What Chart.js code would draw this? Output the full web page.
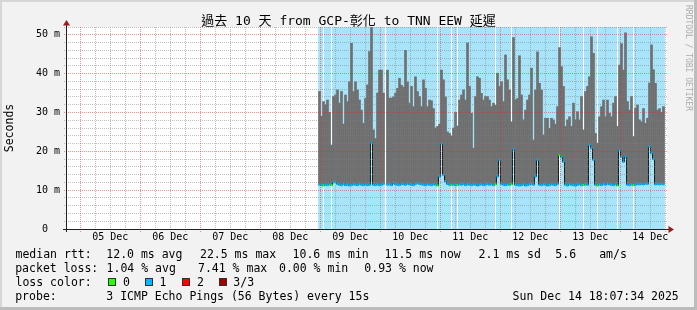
<!DOCTYPE html>
<html><head><meta charset="utf-8">
<script src="https://cdn.jsdelivr.net/npm/chart.js@4.4.1/dist/chart.umd.min.js"></script>
<style>
html,body{margin:0;padding:0;background:#f2f2f2;}
#wrap{position:relative;width:697px;height:310px;background:#f2f2f2;overflow:hidden;font-family:"DejaVu Sans Mono",monospace;color:#000;}
#fTL{position:absolute;left:0;top:0;width:697px;height:310px;box-sizing:border-box;border-top:2px solid #d6d6d6;border-left:2px solid #d6d6d6;}
#fBR{position:absolute;left:0;top:0;width:697px;height:310px;box-sizing:border-box;border-right:3px solid #bcbcbc;border-bottom:3px solid #bcbcbc;}
canvas{position:absolute;left:0;top:0;}
.t{position:absolute;white-space:pre;font-size:11.5px;line-height:14px;}
#title{position:absolute;left:0;top:13px;width:697px;text-align:center;font-family:"DejaVu Sans Mono","Noto Sans CJK TC",monospace;font-size:13px;line-height:16px;white-space:pre;}
#wm{position:absolute;left:683px;top:5px;writing-mode:vertical-rl;font-size:8px;line-height:10px;color:#ababab;white-space:pre;}
.box{position:absolute;width:8px;height:8px;box-sizing:border-box;border:1px solid #303030;}
</style></head>
<body>
<div id="wrap">
<div id="fTL"></div><div id="fBR"></div>
<canvas id="c" width="697" height="310"></canvas>
<div id="title">過去 10 天 from GCP-彰化 to TNN EEW 延遲</div>
<div id="wm">RRDTOOL / TOBI OETIKER</div>

<span class="t" style="left:15.5px;top:247.3px">median rtt:</span>
<span class="t" style="left:106.3px;top:247.3px">12.0 ms avg</span>
<span class="t" style="left:200px;top:247.3px">22.5 ms max</span>
<span class="t" style="left:292.6px;top:247.3px">10.6 ms min</span>
<span class="t" style="left:384.6px;top:247.3px">11.5 ms now</span>
<span class="t" style="left:478.6px;top:247.3px">2.1 ms sd</span>
<span class="t" style="left:555.3px;top:247.3px">5.6</span>
<span class="t" style="left:599.2px;top:247.3px">am/s</span>

<span class="t" style="left:15.2px;top:261.3px">packet loss:</span>
<span class="t" style="left:106.6px;top:261.3px">1.04 % avg</span>
<span class="t" style="left:198px;top:261.3px">7.41 % max</span>
<span class="t" style="left:279px;top:261.3px">0.00 % min</span>
<span class="t" style="left:364.3px;top:261.3px">0.93 % now</span>

<span class="t" style="left:15.5px;top:275.3px">loss color:</span>
<div class="box" style="left:108px;top:278px;background:#26ff00"></div>
<span class="t" style="left:123px;top:275.3px">0</span>
<div class="box" style="left:145px;top:278px;background:#00b8ff"></div>
<span class="t" style="left:159.5px;top:275.3px">1</span>
<div class="box" style="left:182px;top:278px;background:#ff0000"></div>
<span class="t" style="left:197px;top:275.3px">2</span>
<div class="box" style="left:219px;top:278px;background:#a00000"></div>
<span class="t" style="left:233.3px;top:275.3px">3/3</span>

<span class="t" style="left:15.2px;top:289.3px">probe:</span>
<span class="t" style="left:106.3px;top:289.3px">3 ICMP Echo Pings (56 Bytes) every 15s</span>
<span class="t" style="left:512.6px;top:289.3px">Sun Dec 14 18:07:34 2025</span>
</div>

<script>
// ---- axis data ----
const DAY_LABELS = ['05 Dec','06 Dec','07 Dec','08 Dec','09 Dec','10 Dec','11 Dec','12 Dec','13 Dec','14 Dec'];
const LABEL_DAYS = [5,6,7,8,9,10,11,12,13,14];
const X_START_DAY = 4.7778;   // Dec 4 18:40
const X_END_DAY = 14.7778;    // Dec 14 18:40
const FIRST_SAMPLE_DAY = 8.96944; // Dec 8 23:16, start of first 48-minute column
const SAMPLE_STEP_DAY = 1/30;     // 48 minutes
const Y_MAX_MS = 52;
const Y_LABEL_VALUES = [0,10,20,30,40,50];
const Y_LABELS = ['0  ','10 m','20 m','30 m','40 m','50 m'];

// ---- series (ms) ----
const SMOKE_MAX = [
 35.4,29.0,32.8,32.0,33.2,30.0,21.6,34.1,34.5,35.8,
 32.4,35.4,27.0,34.5,32.8,37.9,47.8,35.4,37.9,35.8,
 33.2,30.6,27.2,33.6,37.1,45.7,52.0,25.5,23.3,35.0,
 40.9,40.9,35.0,null,40.9,33.7,33.7,34.0,35.0,36.2,
 38.8,37.0,36.5,46.0,37.9,32.4,36.7,31.5,39.2,35.4,
 34.1,31.5,38.4,36.2,31.5,33.2,33.0,31.0,26.0,26.4,
 27.0,40.9,38.4,34.0,25.0,24.6,24.0,26.0,30.0,26.5,
 33.2,34.5,35.8,33.2,47.9,36.7,29.8,20.8,34.1,39.2,
 38.8,34.9,33.2,34.1,34.1,33.2,31.5,32.4,31.9,40.1,
 36.7,37.9,32.8,44.8,38.4,35.8,27.6,49.3,33.2,33.6,
 44.6,34.5,28.1,30.6,33.2,34.5,41.4,22.9,35.8,45.6,
 37.5,35.8,24.2,28.5,28.5,25.9,28.5,28.1,27.0,31.5,
 46.7,41.8,36.7,26.4,28.1,28.9,26.4,32.4,28.1,30.2,
 28.1,34.1,25.5,35.4,36.7,39.2,49.5,45.2,24.6,22.1,
 28.9,31.5,33.2,28.9,33.2,29.8,28.9,32.4,34.1,26.4,
 42.2,47.7,40.9,50.5,32.8,30.6,34.1,23.8,31.1,31.9,
 28.1,27.6,31.0,27.2,28.5,37.6,47.4,41.0,37.5,30.6,
 31.0,30.0,31.5
];
const MEDIAN_RTT = [
 11.4,11.3,11.2,11.4,11.3,11.5,11.3,12.0,12.1,11.6,
 11.4,11.3,11.6,11.3,11.4,11.2,11.3,11.5,11.4,11.3,
 11.6,11.4,11.3,11.5,11.3,11.4,22.2,11.4,11.3,11.5,
 11.3,11.4,11.6,null,11.4,11.5,11.3,11.8,11.5,11.4,
 11.3,11.6,11.5,11.4,11.7,11.5,11.4,11.3,11.6,11.8,
 11.6,11.5,11.4,11.3,11.5,11.4,11.3,11.5,11.4,11.2,
 13.5,22.0,13.9,12.3,11.6,11.4,11.3,11.5,11.3,11.3,
 11.5,11.4,11.6,11.3,11.5,11.4,11.3,11.5,11.4,11.2,
 11.4,11.5,11.3,11.4,11.6,11.4,11.5,11.3,11.5,13.5,
 17.8,11.6,11.4,11.3,11.5,11.4,11.5,20.5,11.4,11.3,
 11.2,11.3,11.5,11.2,11.3,11.5,11.6,11.4,13.5,17.8,
 11.4,11.3,11.5,11.4,11.2,11.3,11.5,11.4,11.3,11.6,
 19.0,18.5,17.3,11.4,11.2,11.5,11.4,11.3,11.2,11.4,
 11.5,11.3,11.3,11.5,11.4,21.6,20.8,17.8,11.4,11.2,
 11.5,11.3,11.6,11.4,11.7,11.5,11.4,11.3,11.5,11.2,
 20.3,18.6,17.3,18.6,11.4,11.3,11.5,11.3,11.4,11.6,
 11.5,11.6,11.5,11.7,11.6,21.2,19.5,18.0,11.5,11.6,
 11.5,11.6,11.5
];
// lost pings (of 3) per column; null = no data
const LOSS = [
 1,1,0,1,1,1,0,1,1,1,
 1,1,1,1,1,1,1,1,1,1,
 1,1,1,1,1,1,1,1,1,1,
 1,1,1,null,1,1,1,1,1,1,
 1,1,1,1,1,1,1,1,1,1,
 1,1,1,1,1,1,1,1,1,0,
 1,1,1,1,1,1,0,1,1,0,
 1,1,1,1,1,1,1,1,1,1,
 1,1,1,1,1,1,1,1,0,1,
 1,1,1,1,1,1,0,1,1,1,
 1,1,1,1,1,1,1,1,1,1,
 1,1,1,1,1,1,1,1,1,1,
 0,1,1,1,1,1,1,1,1,1,
 1,1,0,1,1,1,1,1,1,0,
 1,1,1,1,1,1,1,1,1,0,
 1,1,1,1,1,1,1,0,1,1,
 1,1,1,1,1,1,1,1,1,1,
 1,1,1
];

const LOSS_COLORS = ['#26ff00','#00b8ff','#ff0000','#a00000'];
const LOSS_BG = '#a7e4fa';
const SMOKE_COLOR = '#6f6f6f';
const GRID_MAJOR = 'rgba(255,30,30,0.5)';
const GRID_MINOR = 'rgba(128,128,128,0.5)';

const T = SMOKE_MAX.map((_, k) => FIRST_SAMPLE_DAY + (k + 0.5) * SAMPLE_STEP_DAY);

// 6-hour minor grid, midnight major grid
const xMinorTicks = [], xMajorTicks = [];
for (let q = 20; q <= 59; q++) (q % 4 === 0 ? xMajorTicks : xMinorTicks).push(q / 4);
const yMinorTicks = [], yMajorTicks = [];
for (let v = 2; v <= Y_MAX_MS; v += 2) (v % 10 === 0 ? yMajorTicks : yMinorTicks).push(v);
const xTicks = xMinorTicks.concat(xMajorTicks).sort((a, b) => a - b);
const yTicks = [0].concat(yMinorTicks, yMajorTicks).sort((a, b) => a - b);

const axisFont = {family: 'DejaVu Sans Mono', size: 10};
const align = p => Math.round(p - 0.5) + 0.5;

// rrdtool-style dotted grid drawn over the data, positioned by the chart's scales
const gridPlugin = {
  id: 'rrdgrid',
  afterDatasetsDraw(chart) {
    const {ctx, chartArea: a, scales: {x, y}} = chart;
    const vline = (v, color) => {
      const px = align(x.getPixelForValue(v));
      ctx.strokeStyle = color;
      ctx.beginPath(); ctx.moveTo(px, a.top); ctx.lineTo(px, a.bottom + 3); ctx.stroke();
    };
    const hline = (v, color) => {
      const py = align(y.getPixelForValue(v));
      ctx.strokeStyle = color;
      ctx.beginPath(); ctx.moveTo(a.left - 3, py); ctx.lineTo(a.right, py); ctx.stroke();
    };
    ctx.save();
    ctx.lineWidth = 1;
    ctx.setLineDash([1, 1]);
    xMinorTicks.forEach(v => vline(v, GRID_MINOR));
    yMinorTicks.forEach(v => hline(v, GRID_MINOR));
    xMajorTicks.forEach(v => vline(v, GRID_MAJOR));
    yMajorTicks.forEach(v => hline(v, GRID_MAJOR));
    ctx.restore();
  }
};

const framePlugin = {
  id: 'frame',
  beforeDraw(chart) {
    const {ctx, chartArea: a} = chart;
    ctx.save();
    ctx.fillStyle = '#ffffff';
    ctx.fillRect(a.left, a.top, a.right - a.left, a.bottom - a.top);
    ctx.restore();
  },
  afterDraw(chart) {
    const {ctx, chartArea: a} = chart;
    const yb = Math.floor(a.bottom) + 0.5, xl = Math.floor(a.left) - 0.5;
    ctx.save();
    ctx.strokeStyle = '#202020';
    ctx.lineWidth = 1;
    ctx.beginPath();
    ctx.moveTo(a.left - 4, yb); ctx.lineTo(a.right + 3, yb);
    ctx.moveTo(xl, a.bottom + 3); ctx.lineTo(xl, a.top - 3);
    ctx.stroke();
    ctx.fillStyle = '#9b1c1c';
    ctx.beginPath();
    ctx.moveTo(a.right + 7, yb); ctx.lineTo(a.right + 1.5, yb - 3.5); ctx.lineTo(a.right + 1.5, yb + 3.5); ctx.closePath();
    ctx.fill();
    ctx.beginPath();
    ctx.moveTo(xl, a.top - 7); ctx.lineTo(xl - 3.5, a.top - 1.5); ctx.lineTo(xl + 3.5, a.top - 1.5); ctx.closePath();
    ctx.fill();
    ctx.restore();
  }
};

new Chart(document.getElementById('c'), {
  type: 'bar',
  data: {
    datasets: [
      { // loss background
        type: 'bar', order: 10, grouped: false, barThickness: 2,
        backgroundColor: LOSS_BG,
        data: LOSS.map((l, k) => ({x: T[k], y: l === null ? null : Y_MAX_MS}))
      },
      { // no-loss columns
        type: 'bar', order: 9, grouped: false, barThickness: 1, inflateAmount: 0,
        backgroundColor: '#ffffff',
        data: LOSS.map((l, k) => ({x: T[k], y: l === 0 ? Y_MAX_MS : null}))
      },
      { // smoke
        type: 'bar', order: 8, grouped: false, barThickness: 2,
        backgroundColor: SMOKE_COLOR,
        data: SMOKE_MAX.map((m, k) => ({x: T[k], y: (m === null || MEDIAN_RTT[k] === null) ? null : [MEDIAN_RTT[k], m]}))
      },
      { // median edges
        type: 'line', order: 7, stepped: 'middle', borderColor: '#1c1c1c', borderWidth: 1,
        pointRadius: 0, spanGaps: false, fill: false,
        data: MEDIAN_RTT.map((m, k) => ({x: T[k], y: m}))
      },
      { // median coloured by loss
        type: 'line', order: 6, showLine: false, pointStyle: 'line', pointRadius: 1,
        pointBorderWidth: 2.2,
        pointBorderColor: LOSS.map(l => LOSS_COLORS[l ?? 1]),
        pointBackgroundColor: LOSS.map(l => LOSS_COLORS[l ?? 1]),
        data: MEDIAN_RTT.map((m, k) => ({x: T[k], y: m}))
      }
    ]
  },
  options: {
    responsive: false, animation: false, devicePixelRatio: 1,
    layout: {padding: {left: 0, top: 27, right: 30, bottom: 0}},
    plugins: {legend: {display: false}, tooltip: {enabled: false}, title: {display: false}},
    scales: {
      x: {
        type: 'linear', min: X_START_DAY, max: X_END_DAY, offset: false,
        afterBuildTicks: s => { s.ticks = xTicks.map(v => ({value: v})); },
        afterFit: s => { s.height = 81; },
        grid: {display: false, drawTicks: false},
        border: {display: false},
        ticks: {
          autoSkip: false, maxRotation: 0, minRotation: 0, padding: 2.5,
          font: axisFont, color: '#000',
          callback: v => {
            const i = LABEL_DAYS.findIndex(d => Math.abs(d + 0.5 - v) < 1e-6);
            return i >= 0 ? DAY_LABELS[i] : '';
          }
        }
      },
      y: {
        min: 0, max: Y_MAX_MS,
        afterBuildTicks: s => { s.ticks = yTicks.map(v => ({value: v})); },
        afterFit: s => { s.width = 67; },
        grid: {display: false, drawTicks: false},
        border: {display: false},
        ticks: {
          autoSkip: false, padding: 7, font: axisFont, color: '#000',
          callback: v => { const i = Y_LABEL_VALUES.indexOf(v); return i >= 0 ? Y_LABELS[i] : ''; }
        },
        title: {
          display: true, text: 'Seconds', color: '#000',
          font: {family: 'DejaVu Sans Mono', size: 11.5}, padding: {top: 3, bottom: 0}
        }
      }
    }
  },
  plugins: [framePlugin, gridPlugin]
});
</script>
</body></html>
